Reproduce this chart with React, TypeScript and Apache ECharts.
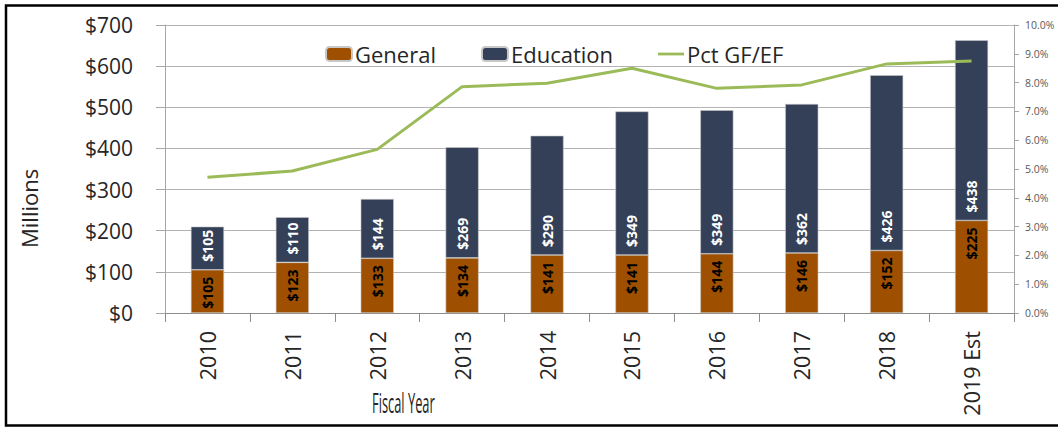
import React, { useEffect, useRef } from "react";
import * as echarts from "echarts";

const categories = ["2010", "2011", "2012", "2013", "2014", "2015", "2016", "2017", "2018", "2019 Est"];
const generalValues = [105, 123, 133, 134, 141, 141, 144, 146, 152, 225];
const educationValues = [105, 110, 144, 269, 290, 349, 349, 362, 426, 438];
const pctValues = [0.0471, 0.0493, 0.0568, 0.0786, 0.0798, 0.085, 0.078, 0.0792, 0.0865, 0.0875];

const FONT = "Open Sans";

export default function App() {
  const ref = useRef<HTMLDivElement>(null);
  useEffect(() => {
    if (!ref.current) return;
    const chart = echarts.init(ref.current, null, { renderer: "svg" });
    chart.setOption({
      animation: false,
      backgroundColor: "#ffffff",
      textStyle: { fontFamily: FONT },
      grid: { left: 165, right: 44, top: 25, bottom: 114, containLabel: false },
      legend: {
        left: 320,
        top: 38,
        itemWidth: 26,
        itemHeight: 14,
        itemGap: 45,
        textStyle: { fontSize: 22, color: "#262626", fontFamily: FONT, padding: [0, 0, 0, -2] },
        data: [
          { name: "General" },
          { name: "Education" },
          { name: "Pct GF/EF", icon: "path://M0,0 L28,0 L28,3 L0,3 Z" },
        ],
      },
      xAxis: {
        type: "category",
        data: categories,
        axisLine: { lineStyle: { color: "#8c8c8c", width: 1 } },
        axisTick: { show: true, length: 9, lineStyle: { color: "#8c8c8c" } },
        axisLabel: {
          rotate: 90,
          fontSize: 21.5,
          color: "#262626",
          margin: 18,
          fontFamily: FONT,
        },
      },
      yAxis: [
        {
          type: "value",
          min: 0,
          max: 700,
          interval: 100,
          axisLine: { show: true, lineStyle: { color: "#a6a6a6" } },
          axisTick: { show: true, length: 9, lineStyle: { color: "#a6a6a6" } },
          splitLine: { lineStyle: { color: "#b3b3b3", width: 1 } },
          axisLabel: {
            fontSize: 21,
            color: "#262626",
            margin: 32,
            formatter: (v: number) => "$" + v,
            fontFamily: FONT,
          },
        },
        {
          type: "value",
          min: 0,
          max: 0.1,
          interval: 0.01,
          position: "right",
          axisLine: { show: true, lineStyle: { color: "#a6a6a6" } },
          axisTick: { show: true, length: 5, lineStyle: { color: "#a6a6a6" } },
          splitLine: { show: false },
          axisLabel: {
            fontSize: 10.5,
            color: "#595959",
            margin: 11,
            formatter: (v: number) => (v * 100).toFixed(1) + "%",
            fontFamily: FONT,
          },
        },
      ],
      series: [
        {
          name: "General",
          type: "bar",
          stack: "total",
          data: generalValues,
          barWidth: "39%",
          itemStyle: { color: "#9E5000", borderColor: "#c8c8c8", borderWidth: 0.6 },
          label: {
            show: true,
            position: "insideTop",
            distance: 7,
            rotate: 90,
            align: "right",
            verticalAlign: "middle",
            fontSize: 14,
            fontWeight: "bold",
            color: "#000000",
            fontFamily: FONT,
            formatter: (p: any) => "$" + p.value,
          },
        },
        {
          name: "Education",
          type: "bar",
          stack: "total",
          data: educationValues,
          barWidth: "39%",
          itemStyle: { color: "#344058", borderColor: "#c8c8c8", borderWidth: 0.6 },
          label: {
            show: true,
            position: "insideBottom",
            distance: 8,
            rotate: 90,
            align: "left",
            verticalAlign: "middle",
            fontSize: 14,
            fontWeight: "bold",
            color: "#ffffff",
            fontFamily: FONT,
            formatter: (p: any) => "$" + p.value,
          },
        },
        {
          name: "Pct GF/EF",
          type: "line",
          yAxisIndex: 1,
          data: pctValues,
          symbol: "none",
          lineStyle: { color: "#9BBB59", width: 3 },
          itemStyle: { color: "#9BBB59" },
        },
      ],
      graphic: [
        {
          type: "text",
          x: 372,
          y: 388,
          style: {
            text: "Fiscal Year",
            fontSize: 28,
            fill: "#262626",
            fontFamily: FONT,
          },
          scaleX: 0.46,
        },
        {
          type: "text",
          x: 18,
          y: 248,
          rotation: Math.PI / 2,
          style: {
            text: "Millions",
            fontSize: 22,
            fill: "#262626",
            fontFamily: FONT,
          },
        },
        {
          type: "rect",
          shape: { x: 6, y: 5.5, width: 1060, height: 420 },
          style: { fill: "none", stroke: "#000000", lineWidth: 2.5 },
          silent: true,
        },
      ],
    });
    return () => chart.dispose();
  }, []);
  return (
    <div
      ref={ref}
      style={{ position: "fixed", left: 0, top: 0, width: 1058, height: 427 }}
    />
  );
}
